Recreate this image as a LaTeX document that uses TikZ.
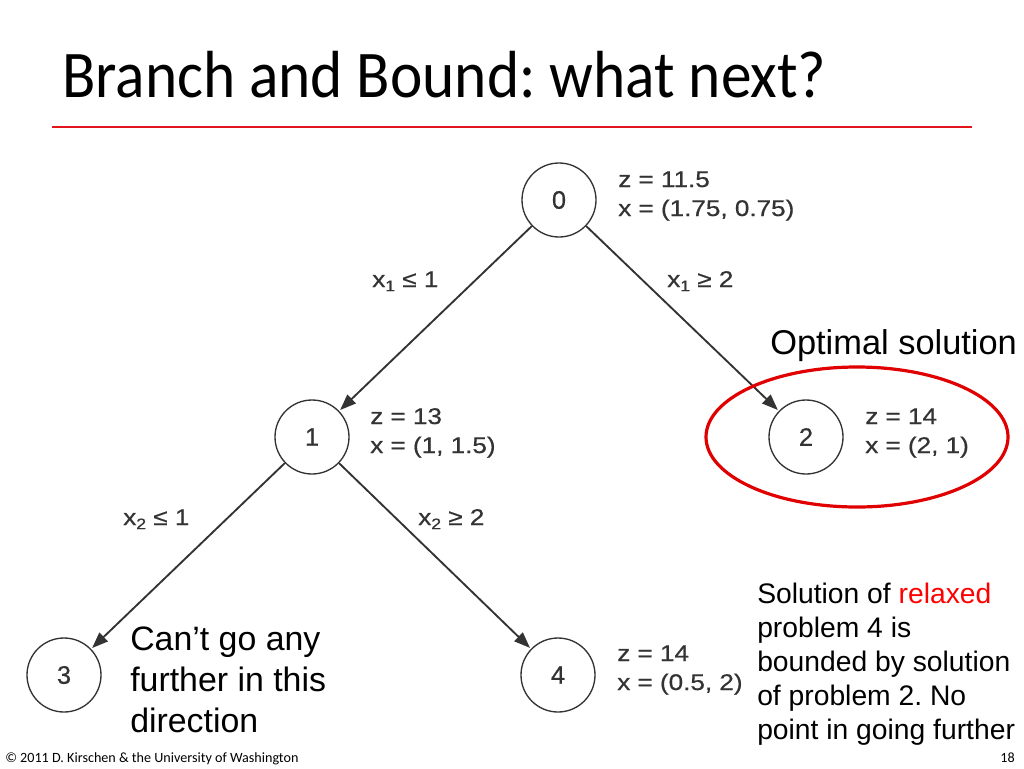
\documentclass[tikz,border=0pt]{standalone}
\usepackage{fontspec}
\setmainfont{Liberation Sans}
\newfontfamily\lblfont[FakeStretch=1.15,FakeBold=0.6]{Liberation Sans}
\newfontfamily\numfont[FakeBold=0.6]{Liberation Sans}
\newfontfamily\ttlfont[FakeStretch=0.92]{Carlito}
\newfontfamily\footfont{Carlito}
\usetikzlibrary{arrows.meta}
\definecolor{treegray}{HTML}{333333}
\definecolor{slidered}{HTML}{E2141C}
\definecolor{ovalred}{HTML}{E00000}
\newcommand\subsc[1]{\raisebox{-0.35ex}{\fontsize{11.5}{11.5}\selectfont #1}}
\frenchspacing
\begin{document}
\frenchspacing
\begin{tikzpicture}[x=0.75pt,y=-0.75pt,
 bbnode/.style={circle,draw=treegray,line width=1pt,minimum size=55.5pt,inner sep=0pt,font=\numfont\fontsize{19}{19}\selectfont,text=treegray},
 info/.style={anchor=base west,inner sep=0pt,font=\lblfont\fontsize{17}{17}\selectfont,text=treegray},
 branch/.style={draw=treegray,line width=1.4pt,-{Triangle[length=12pt,width=9pt]},shorten >=1pt},
 big/.style={anchor=base west,inner sep=0pt,align=left},
]
\useasboundingbox (0,0) rectangle (1024,768);
\fill[white] (0,0) rectangle (1024,768);
% title
\node[anchor=base west,inner sep=0pt,font=\ttlfont\fontsize{50}{50}\selectfont] (title) at (62,97) {Branch and Bound: what next?};
\draw[slidered,line width=2.2pt] (52,127) -- (972,127);
% tree nodes
\node[bbnode] (n0) at (559,200) {0};
\node[bbnode] (n1) at (312,437) {1};
\node[bbnode] (n2) at (806,437) {2};
\node[bbnode] (n3) at (64,675) {3};
\node[bbnode] (n4) at (558,675) {4};
% branches
\draw[branch] (n0) -- (n1);
\draw[branch] (n0) -- (n2);
\draw[branch] (n1) -- (n3);
\draw[branch] (n1) -- (n4);
% branch labels
\node[info] (b01) at (372,287) {x\subsc{1} ≤ 1};
\node[info] (b02) at (667,287) {x\subsc{1} ≥ 2};
\node[info] (b13) at (123,525) {x\subsc{2} ≤ 1};
\node[info] (b14) at (418,525) {x\subsc{2} ≥ 2};
% node info
\node[info] (z0) at (618,187) {z = 11.5};
\node[info] (x0) at (618,216) {x = (1.75, 0.75)};
\node[info] (z1) at (370,424) {z = 13};
\node[info] (x1) at (370,453) {x = (1, 1.5)};
\node[info] (z2) at (865,424) {z = 14};
\node[info] (x2) at (865,453) {x = (2, 1)};
\node[info] (z4) at (617,661) {z = 14};
\node[info] (x4) at (617,690) {x = (0.5, 2)};
% optimal
\draw[ovalred,line width=2.4pt] (857,437) ellipse [x radius=113.25pt, y radius=52.5pt];
\node[big,font=\fontsize{25.8}{30}\selectfont] (opt) at (770,354) {Optimal solution};
% comments
\node[big,font=\fontsize{25.4}{30.75}\selectfont] (cant) at (130,732) {Can’t go any\\further in this\\direction};
\node[big,font=\fontsize{21.2}{25.5}\selectfont] (note4) at (757,739) {Solution of \textcolor{red}{relaxed}\\problem 4 is\\bounded by solution\\of problem 2. No\\point in going further};
% footer
\node[anchor=base west,inner sep=0pt,font=\footfont\fontsize{10.6}{10.6}\selectfont] (foot) at (5,762) {© 2011 D. Kirschen \& the University of Washington};
\node[anchor=base east,inner sep=0pt,font=\footfont\fontsize{10.6}{10.6}\selectfont] (page) at (1015,762) {18};
\end{tikzpicture}
\end{document}
